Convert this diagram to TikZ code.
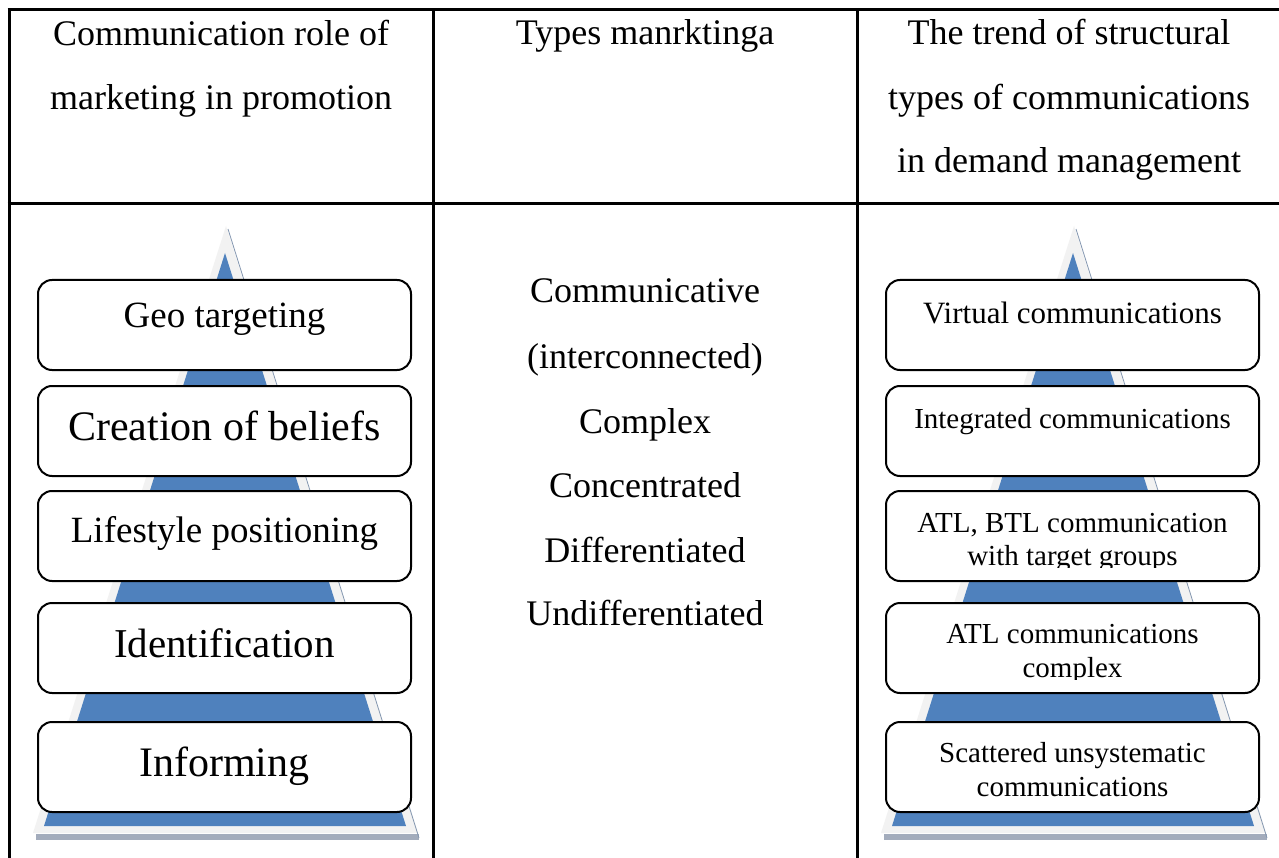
\documentclass[tikz,border=0pt]{standalone}
\usepackage{fontspec}
\setmainfont{Liberation Serif}
\definecolor{pyblue}{HTML}{4F81BD}
\definecolor{pygray}{HTML}{F2F2F2}
\definecolor{pyshadow}{HTML}{A3ACBC}
\definecolor{pyedge}{HTML}{8497B0}
\begin{document}
\begin{tikzpicture}[x=1pt,y=-1pt,
  rule/.style={line width=3pt},
  stepbox/.style={draw=black, line width=2pt, rounded corners=14pt, fill=white,
    minimum width=373pt, minimum height=90pt, inner sep=0pt},
  txt/.style={anchor=base, inner sep=0pt, font=\fontsize{#1}{#1}\selectfont}]
\useasboundingbox (0,0) rectangle (1279,858);
\fill[white] (0,0) rectangle (1279,858);
% table rules
\draw[rule] (7.5,10) -- (1282.5,10);
\draw[rule] (7.5,204) -- (1282.5,204);
\draw[rule] (9,10) -- (9,858);
\draw[rule] (433,10) -- (433,858);
\draw[rule] (857,10) -- (857,858);
\draw[rule] (1281,10) -- (1281,858);
% header texts
\node[txt=36] (h1a) at (221,46) {Communication role of};
\node[txt=36] (h1b) at (221,110) {marketing in promotion};
\node[txt=36] (h2) at (645,45) {Types manrktinga};
\node[txt=36] (h3a) at (1069,45) {The trend of structural};
\node[txt=36] (h3b) at (1069,110) {types of communications};
\node[txt=36] (h3c) at (1069,173) {in demand management};
% pyramids
\foreach \dx in {0,848}{
  \fill[pygray] (226+\dx,226) -- (418+\dx,833) -- (33+\dx,833) -- cycle;
  \fill[pyshadow] (36+\dx,834) rectangle (419+\dx,840);
  \fill[pyblue] (225+\dx,253) -- (406+\dx,826) -- (44+\dx,826) -- cycle;
  \draw[pyedge, line width=0.8pt] (228+\dx,229) -- (419+\dx,838);
}
% left boxes
\node[stepbox] (L1) at (224.5,325) {};
\node[stepbox] (L2) at (224.5,431) {};
\node[stepbox] (L3) at (224.5,536) {};
\node[stepbox] (L4) at (224.5,648) {};
\node[stepbox] (L5) at (224.5,767) {};
\node[txt=37] (tL1) at (224.5,328) {Geo targeting};
\node[txt=42] (tL2) at (224.5,440) {Creation of beliefs};
\node[txt=37] (tL3) at (224.5,542) {Lifestyle positioning};
\node[txt=41] (tL4) at (224.5,657) {Identification};
\node[txt=42] (tL5) at (224.5,776) {Informing};
% middle column
\node[txt=36] (m1) at (645,303) {Communicative};
\node[txt=36] (m2) at (645,368) {(interconnected)};
\node[txt=36] (m3) at (645,433) {Complex};
\node[txt=36] (m4) at (645,497) {Concentrated};
\node[txt=36] (m5) at (645,562) {Differentiated};
\node[txt=36] (m6) at (645,625) {Undifferentiated};
% right boxes
\node[stepbox] (R1) at (1072.5,325) {};
\node[stepbox] (R2) at (1072.5,431) {};
\node[stepbox] (R3) at (1072.5,536) {};
\node[stepbox] (R4) at (1072.5,648) {};
\node[stepbox] (R5) at (1072.5,767) {};
\node[txt=31] (tR1) at (1072.5,324) {Virtual communications};
\node[txt=29] (tR2) at (1072.5,428) {Integrated communications};
\node[txt=29] (tR3a) at (1072.5,532) {ATL, BTL communication};
\begin{scope}
  \clip (886,500) rectangle (1259,567.5);
  \node[txt=29] (tR3b) at (1072.5,565.5) {with target groups};
\end{scope}
\node[txt=29] (tR4a) at (1072.5,643) {ATL communications};
\begin{scope}
  \clip (886,610) rectangle (1259,679);
  \node[txt=29] (tR4b) at (1072.5,677.5) {complex};
\end{scope}
\node[txt=29] (tR5a) at (1072.5,762) {Scattered unsystematic};
\node[txt=29] (tR5b) at (1072.5,796) {communications};
\end{tikzpicture}
\end{document}
